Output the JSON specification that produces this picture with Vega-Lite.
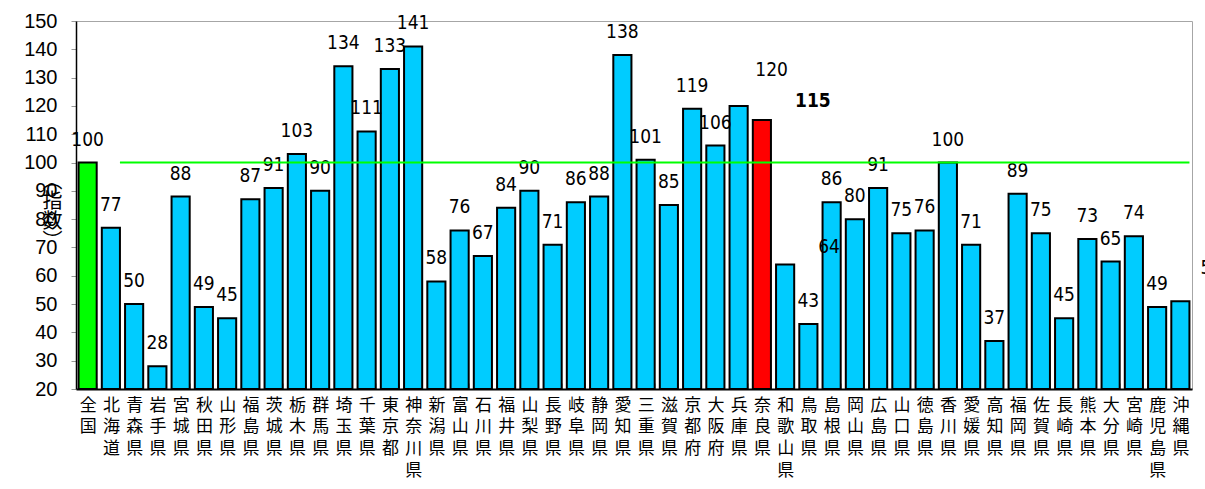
{
  "$schema": "https://vega.github.io/schema/vega-lite/v6.json",
  "width": 1116,
  "height": 368,
  "autosize": "none",
  "padding": {"left": 76, "top": 21, "right": 13, "bottom": 100},
  "background": "white",
  "config": {
    "view": {"stroke": "#a6a6a6", "strokeWidth": 1},
    "axisX": {
      "labelFont": "Noto Sans CJK JP", "labelFontSize": 17, "labelColor": "black",
      "labelLineHeight": 21.7, "labelBaseline": "top", "labelAlign": "center", "labelAngle": 0,
      "labelPadding": 14,
      "tickBand": "extent", "tickSize": -6, "tickColor": "#bbbbbb",
      "domainColor": "black", "domainWidth": 2
    },
    "axisY": {
      "grid": false, "tickSize": 5, "tickColor": "#999999",
      "domainColor": "black", "domainWidth": 1.5,
      "labelFont": "Liberation Sans", "labelFontSize": 20, "labelColor": "black",
      "labelPadding": 14,
      "titleFont": "Noto Sans CJK JP", "titleFontSize": 20, "titleFontWeight": "normal",
      "titleColor": "black", "titleLineHeight": 20
    }
  },
  "data": {"values": [
    {"pref": "全国", "value": 100, "group": "national"},
    {"pref": "北海道", "value": 77, "group": "other"},
    {"pref": "青森県", "value": 50, "group": "other"},
    {"pref": "岩手県", "value": 28, "group": "other"},
    {"pref": "宮城県", "value": 88, "group": "other"},
    {"pref": "秋田県", "value": 49, "group": "other"},
    {"pref": "山形県", "value": 45, "group": "other"},
    {"pref": "福島県", "value": 87, "group": "other"},
    {"pref": "茨城県", "value": 91, "group": "other"},
    {"pref": "栃木県", "value": 103, "group": "other"},
    {"pref": "群馬県", "value": 90, "group": "other"},
    {"pref": "埼玉県", "value": 134, "group": "other"},
    {"pref": "千葉県", "value": 111, "group": "other"},
    {"pref": "東京都", "value": 133, "group": "other"},
    {"pref": "神奈川県", "value": 141, "group": "other"},
    {"pref": "新潟県", "value": 58, "group": "other"},
    {"pref": "富山県", "value": 76, "group": "other"},
    {"pref": "石川県", "value": 67, "group": "other"},
    {"pref": "福井県", "value": 84, "group": "other"},
    {"pref": "山梨県", "value": 90, "group": "other"},
    {"pref": "長野県", "value": 71, "group": "other"},
    {"pref": "岐阜県", "value": 86, "group": "other"},
    {"pref": "静岡県", "value": 88, "group": "other"},
    {"pref": "愛知県", "value": 138, "group": "other"},
    {"pref": "三重県", "value": 101, "group": "other"},
    {"pref": "滋賀県", "value": 85, "group": "other"},
    {"pref": "京都府", "value": 119, "group": "other"},
    {"pref": "大阪府", "value": 106, "group": "other"},
    {"pref": "兵庫県", "value": 120, "group": "other"},
    {"pref": "奈良県", "value": 115, "group": "nara"},
    {"pref": "和歌山県", "value": 64, "group": "other"},
    {"pref": "鳥取県", "value": 43, "group": "other"},
    {"pref": "島根県", "value": 86, "group": "other"},
    {"pref": "岡山県", "value": 80, "group": "other"},
    {"pref": "広島県", "value": 91, "group": "other"},
    {"pref": "山口県", "value": 75, "group": "other"},
    {"pref": "徳島県", "value": 76, "group": "other"},
    {"pref": "香川県", "value": 100, "group": "other"},
    {"pref": "愛媛県", "value": 71, "group": "other"},
    {"pref": "高知県", "value": 37, "group": "other"},
    {"pref": "福岡県", "value": 89, "group": "other"},
    {"pref": "佐賀県", "value": 75, "group": "other"},
    {"pref": "長崎県", "value": 45, "group": "other"},
    {"pref": "熊本県", "value": 73, "group": "other"},
    {"pref": "大分県", "value": 65, "group": "other"},
    {"pref": "宮崎県", "value": 74, "group": "other"},
    {"pref": "鹿児島県", "value": 49, "group": "other"},
    {"pref": "沖縄県", "value": 51, "group": "other"}
  ]},
  "encoding": {
    "x": {
      "field": "pref", "type": "nominal", "sort": null,
      "scale": {"paddingInner": 0.22, "paddingOuter": 0.11},
      "axis": {"title": null, "labelExpr": "split(datum.label, '')"}
    },
    "y": {
      "field": "value", "type": "quantitative",
      "scale": {"domain": [20, 150], "nice": false, "zero": false},
      "axis": {
        "values": [20, 30, 40, 50, 60, 70, 80, 90, 100, 110, 120, 130, 140, 150],
        "title": ["︵", "指", "数", "︶"], "titleAngle": 0,
        "titleX": -24, "titleY": 150, "titleAlign": "center", "titleBaseline": "top"
      }
    }
  },
  "layer": [
    {
      "mark": {"type": "bar", "stroke": "black", "strokeWidth": 2},
      "encoding": {
        "y2": {"datum": 20},
        "color": {
          "field": "group", "type": "nominal",
          "scale": {"domain": ["national", "nara", "other"], "range": ["#00ff00", "#ff0000", "#00ccff"]},
          "legend": null
        }
      }
    },
    {
      "transform": [{"filter": "indexof(['兵庫県','奈良県','和歌山県','沖縄県'], datum.pref) < 0"}],
      "mark": {"type": "text", "font": "Liberation Sans Narrow, DejaVu Sans Condensed, Liberation Sans", "fontSize": 19, "baseline": "alphabetic", "dy": -17, "color": "black"},
      "encoding": {"text": {"field": "value", "type": "quantitative"}}
    },
    {
      "transform": [{"filter": {"field": "pref", "equal": "兵庫県"}}],
      "mark": {"type": "text", "font": "Liberation Sans Narrow, DejaVu Sans Condensed, Liberation Sans", "fontSize": 19, "baseline": "alphabetic", "dx": 33, "dy": -30, "color": "black"},
      "encoding": {"text": {"field": "value", "type": "quantitative"}}
    },
    {
      "transform": [{"filter": {"field": "pref", "equal": "奈良県"}}],
      "mark": {"type": "text", "font": "Liberation Sans Narrow, DejaVu Sans Condensed, Liberation Sans", "fontSize": 19, "fontWeight": "bold", "baseline": "alphabetic", "dx": 51, "dy": -13, "color": "black"},
      "encoding": {"text": {"field": "value", "type": "quantitative"}}
    },
    {
      "transform": [{"filter": {"field": "pref", "equal": "和歌山県"}}],
      "mark": {"type": "text", "font": "Liberation Sans Narrow, DejaVu Sans Condensed, Liberation Sans", "fontSize": 19, "baseline": "alphabetic", "dx": 44, "dy": -11, "color": "black"},
      "encoding": {"text": {"field": "value", "type": "quantitative"}}
    },
    {
      "transform": [{"filter": {"field": "pref", "equal": "沖縄県"}}],
      "mark": {"type": "text", "font": "Liberation Sans Narrow, DejaVu Sans Condensed, Liberation Sans", "fontSize": 19, "baseline": "alphabetic", "dx": 31, "dy": -27, "color": "black"},
      "encoding": {"text": {"field": "value", "type": "quantitative"}}
    },
    {
      "transform": [{"filter": {"field": "pref", "oneOf": ["北海道", "沖縄県"]}}],
      "mark": {"type": "line", "color": "#00ff00", "strokeWidth": 2},
      "encoding": {
        "x": {"field": "pref", "type": "nominal", "sort": null, "bandPosition": 1},
        "y": {"datum": 100}
      }
    }
  ]
}
